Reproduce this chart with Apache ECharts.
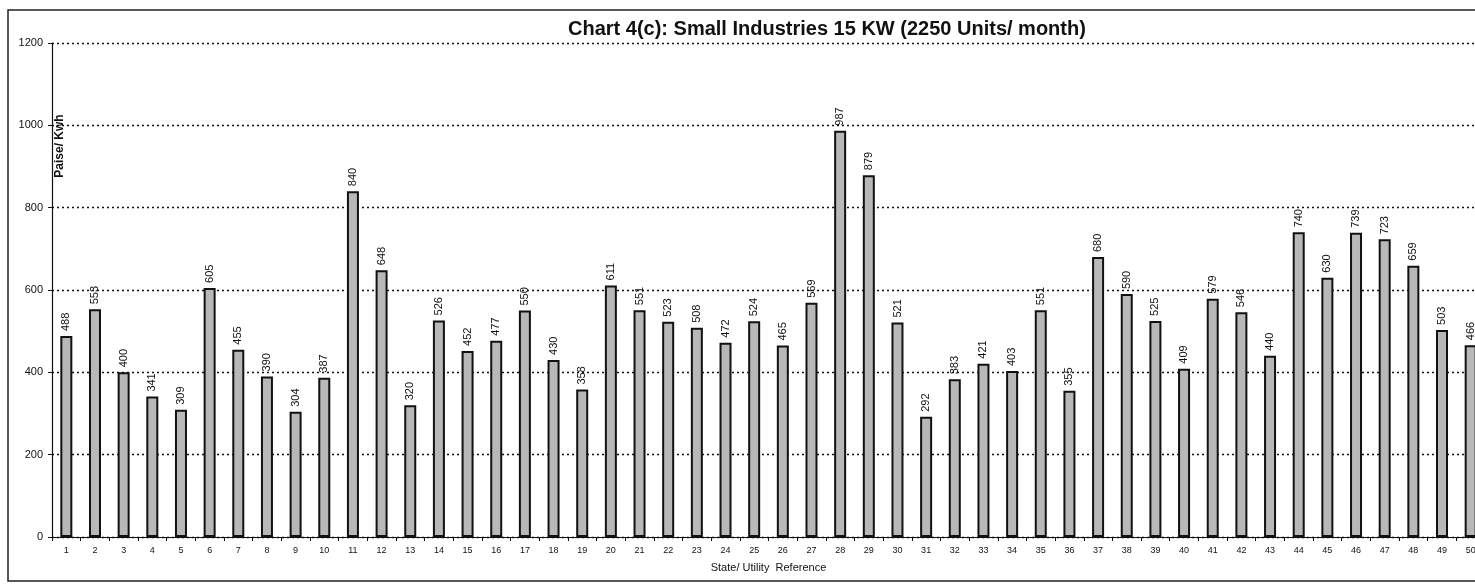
<!DOCTYPE html>
<html>
<head>
<meta charset="utf-8">
<script src="https://cdn.jsdelivr.net/npm/echarts@6/dist/echarts.min.js"></script>
<style>
  html, body { margin: 0; padding: 0; background: #fff; }
  #chart { width: 1475px; height: 584px; }
</style>
</head>
<body>
<div id="chart"></div>
<script>
// category numbers along the x axis
const refs = Array.from({ length: 50 }, (_, i) => String(i + 1))

// tariff in paise per kWh
const tariff = [
  488, 553, 400, 341, 309, 605, 455, 390, 304, 387,
  840, 648, 320, 526, 452, 477, 550, 430, 358, 611,
  551, 523, 508, 472, 524, 465, 569, 987, 879, 521,
  292, 383, 421, 403, 551, 355, 680, 590, 525, 409,
  579, 546, 440, 740, 630, 739, 723, 659, 503, 466
]

const yTicks = [0, 200, 400, 600, 800, 1000, 1200]

const chart = echarts.init(document.getElementById('chart'))

const font = 'Arial, "Liberation Sans", sans-serif'

const option = {
  backgroundColor: '#fff',
  animation: false,
  textStyle: { fontFamily: font },
  title: {
    text: 'Chart 4(c): Small Industries 15 KW (2250 Units/ month)',
    left: 563,
    top: 14,
    textStyle: { fontSize: 20, fontWeight: 'bold', color: '#111', fontFamily: font }
  },
  graphic: [
    {
      type: 'rect',
      shape: { x: 8, y: 10, width: 1480, height: 571 },
      style: { fill: 'none', stroke: '#222', lineWidth: 1.5 },
      silent: true
    },
    {
      type: 'text',
      x: 60,
      y: 146,
      rotation: Math.PI / 2,
      style: {
        text: 'Paise/ Kwh',
        font: 'bold 12px ' + font,
        fill: '#111',
        align: 'center',
        verticalAlign: 'middle'
      }
    }
  ],
  grid: { left: 52, right: -10, top: 43, bottom: 47, outerBoundsMode: 'none', containLabel: false },
  xAxis: {
    type: 'category',
    data: refs,
    name: 'State/ Utility  Reference',
    nameLocation: 'middle',
    nameGap: 25,
    nameTextStyle: { fontSize: 11, color: '#111' },
    axisLine: { lineStyle: { color: '#111', width: 1.2 } },
    axisTick: { show: true, length: 4, lineStyle: { color: '#111' } },
    axisLabel: { fontSize: 9, color: '#111', margin: 9, interval: 0 }
  },
  yAxis: {
    type: 'value',
    min: yTicks[0],
    max: yTicks[yTicks.length - 1],
    interval: 200,
    axisLine: { show: true, lineStyle: { color: '#111', width: 1.2 } },
    axisTick: { show: true, length: 4, lineStyle: { color: '#111' } },
    axisLabel: { fontSize: 11, color: '#111', margin: 9, formatter: (v) => String(v) },
    splitLine: { lineStyle: { color: '#111', type: [2, 3], width: 1.4 } }
  },
  series: [
    {
      type: 'bar',
      data: tariff,
      barWidth: 12,
      itemStyle: {
        color: '#b8b8b8',
        borderColor: '#111',
        borderWidth: 2
      },
      label: {
        show: true,
        position: 'top',
        rotate: 90,
        align: 'left',
        verticalAlign: 'middle',
        distance: 5,
        fontSize: 11,
        color: '#111'
      }
    }
  ]
}

chart.setOption(option)
</script>
</body>
</html>
